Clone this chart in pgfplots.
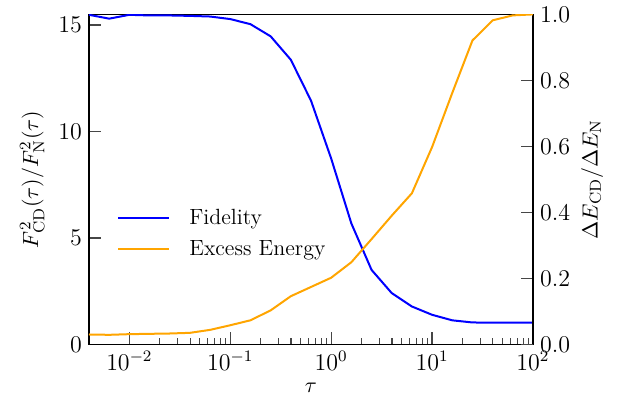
\documentclass[border=0pt]{standalone}
\usepackage{pgfplots}
\pgfplotsset{compat=1.18}
\definecolor{mpl_orange}{RGB}{255,165,0}
\definecolor{tickgray}{RGB}{70,70,70}
\pgfplotstableread{
tau fid en
0.003981 15.48 0.030
0.006310 15.30 0.029
0.010000 15.48 0.031
0.015849 15.45 0.032
0.025119 15.45 0.033
0.039811 15.43 0.035
0.063096 15.40 0.044
0.100000 15.28 0.058
0.158489 15.04 0.073
0.251189 14.47 0.103
0.398107 13.37 0.146
0.630957 11.45 0.174
1.000000 8.73 0.202
1.584893 5.68 0.249
2.511886 3.50 0.319
3.981072 2.41 0.390
6.309573 1.78 0.458
10.00000 1.39 0.598
15.84893 1.13 0.762
25.11886 1.03 0.921
39.81072 1.02 0.982
63.09573 1.02 0.997
100.0000 1.02 1.000
}\datatab
\pgfplotsset{every axis/.append style={font=\fontsize{11}{13.2}\selectfont},
  every tick label/.append style={font=\fontsize{12}{14.4}\selectfont}}
\begin{document}
\begin{tikzpicture}
\begin{axis}[
  name=ax,
  scale only axis,
  width=222pt, height=165pt,
  xmode=log,
  xmin=0.003981, xmax=100,
  ymin=0, ymax=15.5,
  ytick={0,5,10,15},
  xtick={0.01,0.1,1,10,100},
  xtick pos=lower, ytick pos=left,
  tick align=inside,
  major tick length=6pt, minor tick length=3pt,
  every tick/.style={tickgray, line width=0.6pt},
  axis line style={black, line width=0.8pt},
  xlabel={$\tau$},
  ylabel={$F^2_{\mathrm{CD}}(\tau)/F^2_{\mathrm{N}}(\tau)$},
  xlabel style={at={(axis description cs:0.5,-0.133)}, anchor=center},
  ylabel style={at={(axis description cs:-0.128,0.5)}, anchor=center},
  legend style={at={(axis description cs:0.063,0.336)}, anchor=west, draw=none, fill=none,
    inner sep=0pt, row sep=6.5pt, column sep=9.5pt, nodes={inner sep=0pt}},
  legend cell align=left,
  legend image code/.code={\draw[#1] (0pt,0pt) -- (25.5pt,0pt);},
]
\addplot[blue, line width=1pt] table[x=tau, y=fid] {\datatab};
\addlegendentry{Fidelity}
\addlegendimage{mpl_orange, line width=1pt}
\addlegendentry{Excess Energy}
\end{axis}
\begin{axis}[
  scale only axis,
  width=222pt, height=165pt,
  xmode=log,
  xmin=0.003981, xmax=100,
  ymin=0, ymax=1,
  axis x line=none,
  axis y line*=right,
  ytick={0,0.2,0.4,0.6,0.8,1.0},
  yticklabel style={/pgf/number format/.cd, fixed, fixed zerofill, precision=1},
  tick align=inside,
  major tick length=6pt,
  every tick/.style={tickgray, line width=0.6pt},
  axis line style={black, line width=0.8pt},
  ylabel={$\Delta E_{\mathrm{CD}}/\Delta E_{\mathrm{N}}$},
  ylabel style={at={(axis description cs:1.133,0.5)}, anchor=center},
]
\addplot[mpl_orange, line width=1pt] table[x=tau, y=en] {\datatab};
\end{axis}
\path (ax.south west) ++(-44.5pt,-30.5pt) coordinate (bl);
\path (ax.north east) ++(45pt,4.5pt) coordinate (tr);
\path (bl) (tr);
\end{tikzpicture}
\end{document}
